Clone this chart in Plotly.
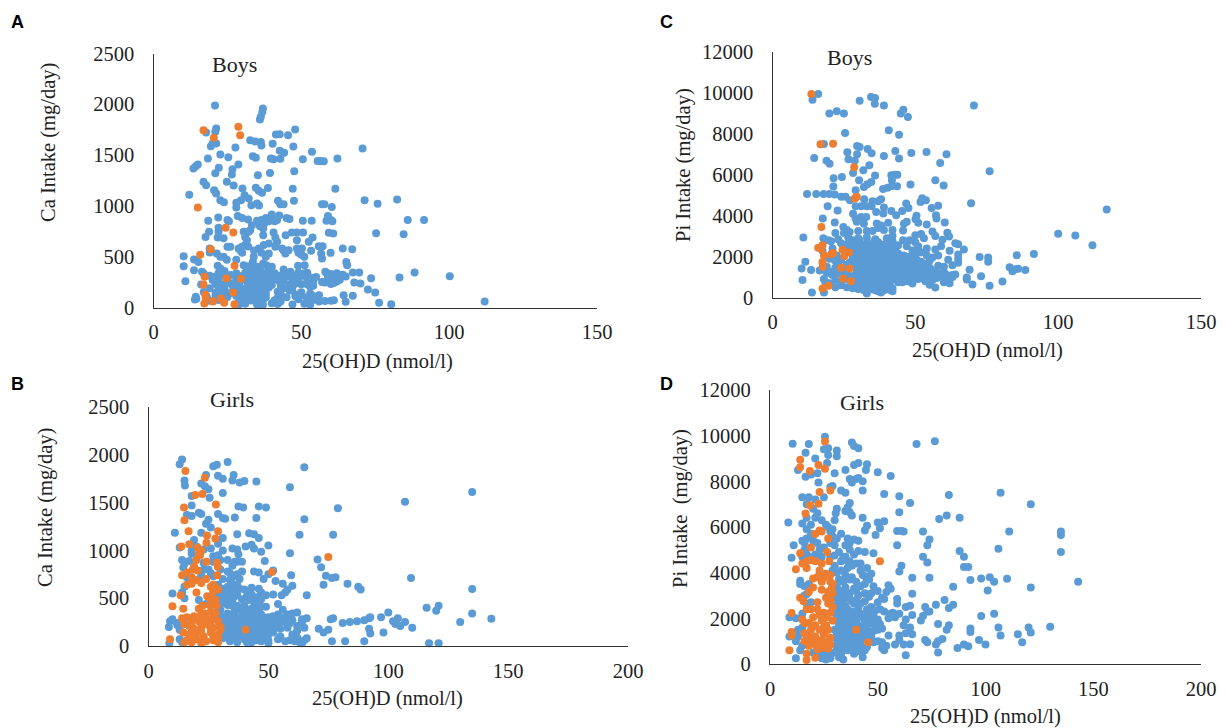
import plotly.graph_objects as go

BLUE = "#5B9BD5"
ORANGE = "#ED7D31"

a_orange = [(16.9,1745),(28.7,1778),(29.3,1696),(20.4,1670),(15,984),(24.4,784),(27,738),(19.4,574),(15.8,518),(27.4,410),(17.3,302),(24.7,289),(29.6,282),(16.9,226),(27,148),(17.5,128),(17.7,95),(17.2,39),(20.1,59),(22.8,89),(23.9,46),(27.4,33)]
a_blue = [(112,60),(20.8,1988),(37,1958),(36.8,1925),(36.3,1877),(36,1850),(21.2,1762),(20.9,1730),(17.8,1722),(41.4,1703),(42.7,1706),(45.5,1696),(47.9,1752),(32.7,1647),(34.4,1634),(36.3,1630),(36.5,1594),(40.3,1611),(47.3,1585),(27.7,1575),(21.2,1614),(19.4,1588),(20,1614),(70.7,1565),(53.6,1532),(42.7,1542),(44.2,1522),(22.6,1506),(25.3,1480),(18.4,1467),(33.6,1489),(34.6,1473),(39.7,1467),(40.6,1460),(42.9,1463),(50.5,1460),(55.5,1443),(57.6,1440),(56.5,1443),(62.2,1467),(15,1407),(13.5,1368),(14.3,1390),(28.7,1407),(22.1,1375),(20.9,1322),(26.7,1361),(26.5,1309),(35.3,1302),(39.4,1325),(47.6,1342),(16.9,1237),(17.8,1204),(24.8,1237),(27.1,1200),(30.1,1171),(34.6,1178),(35.6,1148),(36.7,1129),(38.7,1175),(47.1,1168),(61.5,1168),(12.1,1109),(20.5,1155),(21.2,1122),(30.8,1105),(32.2,1073),(29.6,1056),(22.6,1056),(23.8,1037),(28,1030),(28,985),(33.1,1007),(35,1024),(35.7,1004),(42.1,1050),(42.9,1017),(44,1017),(47.5,1050),(57,1017),(57.8,1017),(60.3,988),(71.4,1056),(75.8,1020),(82.4,1063),
(18.5,855),(21.9,885),(25,860),(25.5,850),(28.5,900),(30,880),(32,865),(35,855),(36.5,860),(38,880),(39,850),(40,915),(41,850),(42.5,905),(41.8,860),(45,880),(46,870),(50.5,855),(53.5,855),(58.5,855),(59,900),(60,860),(60.5,850),(86,860),(91.5,860),(37.5,830),(36,800),
(18.8,745),(17.6,695),(22,784),(22,745),(21.7,690),(23.7,682),(30.5,745),(32.2,745),(33.3,810),(32.7,761),(31,695),(31.6,663),(31,614),(36,810),(37.1,778),(38.4,860),(37.1,712),(40.6,738),(41.2,689),(41.8,646),(44.7,712),(46.8,738),(48.5,738),(50.6,738),(48.5,663),(52.5,646),(53.8,689),(59.3,735),(60.8,728),(75.3,732),(84.6,722),
(25,597),(26,597),(19,580),(19,541),(21.4,531),(22.6,499),(23.7,499),(24.8,470),(28.8,580),(29.3,564),(29.9,597),(33.9,499),(33.6,449),(35.6,580),(37.3,614),(39,630),(39,531),(41.2,597),(43.5,580),(44.6,531),(45.7,564),(48.5,580),(50.2,580),(51,499),(53.3,558),(55.9,604),(57.2,604),(56.7,531),(57,482),(59.9,538),(64,580),(67.2,574),(30,540),(32,600),(34,560),(36.5,540),(38,500),(44,560),(49,540),(50,520),(28,470),
(10.2,505),(10.2,407),(13.7,472),(15.2,449),(13.7,367),(16.4,351),(21.7,410),(22.6,384),(30.5,417),(32.2,407),(37.1,433),(38.2,417),(40,400),(44,374),(46.3,351),(48.9,410),(51.1,417),(65.2,449),(65.5,417),(58.1,351),(33,395),(35,400),(36,380),(39,370),(24,360),
(100.2,308),(83.2,295),(88.3,344),(73.6,289),(67.4,344),(69.6,344),(67.9,246),(70,236),(72.5,177),(75,148),(64.3,121),(67.4,115),(65,56),(76.3,46),(80.4,33),(10.8,259),(16.1,226),(14.3,105),(14.5,85),
(17,335),(22,340),(24,345),(28,338),(31,342),(33,335),(35,345),(37,340),(38,332),(39.5,345),(41,338),(44,340),(46,332),(49,345),(51,336),(52,342),(58.5,342),(60,330),(62,338),(64,322),
(19,312),(21,305),(23,315),(29,310),(30,302),(32,316),(34,308),(36,312),(37,302),(38,316),(39,306),(40,315),(41.5,305),(43,312),(45,302),(48,310),(50,315),(51.5,304),(53,296),(59,310),(61,300),(63,298),(65,304),
(20,270),(22,275),(25,262),(28,278),(31,270),(33,262),(35,276),(36.5,268),(38,260),(39,274),(42,270),(44,262),(47,270),(49,276),(52,262),(54,282),(57,252),(59,270),(62,255),(63,272),
(21,232),(23,226),(26,238),(29,230),(32,224),(34,236),(36,228),(37,240),(40,222),(43,230),(46,225),(48,236),(50,228),(52,230),(54,250),(58,246),(60,232),(61,240),
(19,190),(22,196),(24,186),(27,198),(30,184),(33,192),(35,200),(37,186),(39,196),(44,190),(46,170),(53,205),(54,215),
(17,152),(21,146),(23,158),(26,142),(29,150),(31,160),(33,144),(35,152),(37,160),(38,140),(42,155),(43,130),(47,165),(49,126),(53,138),(56,120),
(18,108),(21,118),(25,104),(28,112),(30,100),(32,118),(34,106),(36,112),(38,100),(42,96),(48,110),(50,118),(52,100),(54,112),
(14,78),(19,66),(22,74),(29,62),(31,78),(33,68),(35,76),(37,66),(41,72),(43,60),(49,80),(52,68),(54,74),(56,60),(58,64),(60,66),(61,72),
(29,32),(31,38),(35,30),(36,40),(37,28),(40,42),(42,34),(47,30),(51,36),(53,28),(33,240),(41,290),(43,180),(45,100),(28,215),(26,320),(24,135),(55,300),(47,205),(50,150)]

c_orange = [(13.6,9950),(16.8,7490),(21.2,7520),(28.6,6370),(28.8,4840),(29.5,4920),(17.1,3450),(16,2430),(17.5,2560),(17,2400),(18,2070),(20.5,2120),(21.2,2180),(24.5,2340),(25.1,2020),(26.8,2200),(17.5,1740),(17.6,1500),(24,1450),(27,1420),(24.7,930),(27.5,800),(17.5,440),(19.6,570)]
c_blue = [(16,9950),(14,9670),(30.5,9620),(34.5,9800),(35.9,9750),(35.8,9475),(39,9380),(70.5,9380),(45.8,9180),(44.9,9000),(47.4,8820),(19.9,9000),(22.5,9100),(25,9000),(40.7,8170),(25.4,8040),(44.3,7960),(18,7500),(29.6,7400),(30.5,7360),(33.3,7260),(34.7,7050),(26.2,7100),(29.6,7000),(39,6920),(43,7160),(44.3,6800),(48.6,7060),(53.9,7110),(60.9,7000),(14.6,6820),(18.9,6690),(20,6540),(26.6,6760),(28.8,6690),(58.7,6580),(33.9,6460),(76,6170),(31.8,6220),(28.2,6090),(21.4,5830),(24.3,5890),(35.9,5960),(30.3,5730),(41.6,5980),(42.9,6000),(43.7,6000),(41.8,5730),(34.6,5650),(33.2,5530),(32,5400),(57,5730),(48.3,5520),(59.9,5470),(21.3,5420),(41.8,5450),(43.6,5440),(40.3,5370),(38.7,5300),(12.1,5060),(15.3,5060),(17.9,5060),(19.9,5060),(21.8,5030),(24.1,4920),(25.5,4920),(29.1,5240),(27.1,4750),(32.1,4800),(35,4700),(38,4800),(37,4700),(52.4,4850),(53.7,4750),(51.8,4670),(46.8,4590),(69.5,4610),(58,4480),(55.7,4380),(47.6,4380),(45.4,4230),(19.3,4460),(22.8,4250),(29.1,4460),(31,4460),(33,4460),(34.7,4460),(39,4400),(36.3,4180),(38.8,4100),(41.6,4230),(43.3,4020),(28.2,4090),(117,4300),(50.4,3990),(50.1,3830),(57.2,4020),(57.4,3860),(60.3,3660),(17.6,3860),(21.8,3660),(29.1,3860),(31,3940),(32.8,3940),(29.5,3700),(32,3600),(46,3600),(47,3700),(36.5,3620),(40.5,3650),(38,3520),(54,3570),(51,3650),
(10.8,2930),(24.8,3450),(26,3300),(22,3150),(25,3150),(27,3200),(30,3250),(33,3250),(35,3250),(37,3400),(39,3300),(42,3300),(45.7,3280),(50,3040),(52,3100),(56,3220),(61.2,3170),(61.8,2980),(57,3000),(100,3110),(106,3030),(112,2550),(17.8,2900),(19.5,2800),(20.5,2750),(23,2850),(26.5,2950),(28,2800),(30,2900),(33,2950),(36,2850),(40,2900),(42,3000),(45.7,2800),(48,2800),(50,2700),(53,2900),(59.5,2820),(64,2650),(65,2600),(67,2350),(17.5,2280),(24,2650),(26,2600),
(31,2500),(33,2650),(35,2550),(37,2700),(39,2450),(41,2600),(43,2400),(47,2500),(49,2300),(51,2500),(54,2400),(57,2350),(59,2500),(62,2280),(65,2100),(65,1900),(72.5,1980),(75.5,1950),(75.5,1750),(85.5,2070),(91.5,2130),
(11.5,1750),(10.2,1420),(13.5,1340),(10.5,860),(13.8,250),(18,250),(16.5,1320),(20,1900),(22,1800),(23,1500),(24,1850),(29,2200),(31,2250),(33,2100),(34,2300),(36,2200),(38,2250),(40,2100),(42,2250),(44,2150),(46,2050),(48,2000),(50,2100),(52,2200),(54,2050),(56,1950),(58,2050),(61.5,1850),(63,1580),(65,1700),
(30,1950),(32,1850),(34,1800),(36,1950),(38,1750),(40,1850),(42,1800),(44,1700),(46,1850),(48,1700),(51,1750),(53,1650),(55,1450),(58,1550),(60,1500),(69,1360),(83,1480),(84,1280),(85,1380),(86,1400),(88.5,1340),
(19,1200),(21,1100),(22,1300),(24,1200),(26,1600),(28,1650),(29,1500),(31,1600),(33,1500),(35,1650),(37,1500),(39,1600),(41,1550),(43,1500),(45,1450),(47,1550),(49,1400),(51,1500),(52,1300),(54,1250),(56,1350),(58,1200),(60,1250),(61,1100),(63,1100),(64,1120),
(30,1300),(32,1200),(34,1350),(36,1250),(38,1150),(40,1350),(42,1200),(44,1250),(46,1150),(48,1250),(50,1050),(52,950),(55,1000),(60,950),(61,800),(62,700),(68,980),(68,880),(73,1040),(70,640),(76,570),(80.5,780),
(18,900),(20,700),(22,850),(24,600),(26,500),(28,600),(30,900),(32,1000),(34,850),(36,950),(38,1050),(40,900),(42,1000),(44,850),(46,950),(48,800),(49,680),(55,620),(57,490),
(28,450),(30,420),(32,350),(33,200),(35,400),(37,300),(38,240),(39,480),(41,380),(42,450),(44,750),(31,700),(33,650),(35,600),(37,720),(39,650),(41,700)]
c_blue_dense = [(27,2550),(29,2650),(30.5,2780),(32,2420),(34,2480),(35.5,2730),(36.5,2350),(38.5,2580),(40,2420),(42,2750),(44,2550),(21,2400),(22.5,2050),(23,1650),(24.5,1100),(26,1300),(27,1700),(28,1900),(29.5,1750),(30.5,1550),(31.5,2050),(32.5,1700),(33,1400),(34,1950),(35,2150),(35.5,1550),(36.5,1850),(37,1650),(37.5,2050),(38.5,1450),(39,1950),(39.5,1250),(40.5,1750),(41,1450),(41.5,2000),(42.5,1550),(43,1950),(43.5,1300),(44.5,1850),(45,1550),(45.5,1150),(46.5,1700),(47.5,1400),(47.5,1100),(48.5,1900),(49,1550),(49.5,1150),(50.5,1850),(50.5,1300),(52,1550),(29,1100),(29.5,1350),(30.5,1100),(31,800),(31.5,1450),(32.5,1100),(33.5,950),(34,1600),(34.5,1150),(35.5,900),(36.5,1100),(37,1350),(37.5,800),(38.5,1050),(39,800),(40.5,1000),(41.5,850),(42.5,1100),(43.5,900),(44.5,1050),(45.5,750),(46.5,1000),(47.5,800),(49,1000),(51,900),(53,1100),(53.5,800),(56,850),(57.5,950),(59,1150),(60,750),(63,1000),(26,900),(24,800),(22,500),(23,1200),(27,1050),(29,600),(30.5,650),(33,550),(34.5,480),(36,350),(37,550),(39,350),(42,300),(22,1450),(20.5,1250),(19,1500),(18.5,750),(26,2250),(28,2450),(29,2000),(30,2350),(33,2050),(35,1750),(37,2200),(41,1850),(47,1900),(52,1750),(54,1500),(55,1800),(57,1250),(51,2350)]

b_orange = [(15.4,1830),(23.5,1760),(19.5,1580),(22.5,1590),(28.1,1480),(14.8,1450),(15,1315),(16.7,1200),(29,1200),(24.4,1155),(27.9,1125),(24.2,1080),(13.7,1040),(17,1065),(20.5,1030),(21.5,950),(20,900),(24.2,880),(28.6,870),(28.9,830),(18.5,800),(16,770),(14,740),(28.7,740),(18,720),(20,690),(22,660),(16,640),(18,650),(27,640),(27,570),(29,590),(20,560),(13.4,530),(24.5,520),(10,415),(14.5,390),(28.4,420),(21,390),(22,330),(26,360),(14,290),(16,300),(18,270),(21,260),(24,290),(27,310),(29,260),(14.5,140),(15,230),(17,210),(19,180),(22,200),(25,220),(27,190),(17,120),(20,130),(23,100),(26,140),(29,120),(16,60),(18,40),(20,70),(24,50),(27,60),(9,70),(75,930),(51.5,775),(40.5,170)]
b_orange_dense = [(21,960),(22,1000),(19,830),(20.5,790),(24,700),(26,620),(28,610),(26,500),(28,480),(22.5,420),(25.5,430),(19,310),(23.5,340),(28,340),(18,230),(23,245),(26,260),(30,200),(18,150),(22,150),(26,180),(30,170),(19,90),(23,60),(27,100),(29,80),(15,40),(22,30),(29,40)]
b_blue = [(14,1950),(13,1900),(33,1925),(28.5,1895),(27,1880),(65,1870),(24,1790),(29,1780),(31,1750),(35.5,1790),(35,1730),(38,1710),(40,1725),(45,1720),(15,1730),(15.2,1680),(22,1700),(23.5,1670),(25,1640),(59,1660),(31,1600),(18,1570),(25.5,1550),(135,1610),(107,1510),(37.5,1460),(39.5,1450),(46,1460),(49,1450),(79,1440),(18,1470),(16,1370),(18,1360),(21,1395),(22,1380),(29,1380),(31,1340),(32,1330),(36,1345),(45,1340),(65,1325),(25,1320),(24,1280),(26,1240),(11,1185),(22,1185),(37,1170),(44,1170),(42,1180),(46,1130),(31,1130),(63,1165),(77,1165),(19,1110),(29,1070),(13,1030),(40.5,1040),(43,1060),(44,1020),(50,1050),(47,985),(59,970),(26,1020),(31,1000),(35,1020),(37,1010),(37.5,960),(18,965),(14,900),(15,860),(33,900),(36,880),(39,880),(23,870),(27,880),(48.5,890),(70.5,905),(72,825),(14.5,820),(19,820),(23,800),(26,760),(30,800),(34,760),(35,720),(37,750),(39,780),(44,780),(46,770),(50,750),(52,790),(48,700),(59.5,740),(74,735),(76.5,710),(78,720),(73,640),(83,650),(87.5,620),(88.5,590),(109.5,710),(135,595),(53,680),(56,650),(60,630),(58,590),(57,560),(66,530),(55.5,530),(52,540),(49,530),(45,510),(42,570),(47,560),(44,470),(46,440),(54,440),(10,550),(15,500),(21,480),(24,440),(27,470),(31,500),(33,540),(35,600),(37,640),(40,590),(43,540),(31,600),(33,620),(37,540),(39,490),(42,480),(35,480),(37,420),(33,430),(30,380),(40,420),(43,390),(46,360),(49,410),(56,380),(58,330),(60,340),(62,350),(66,290),(64,280),(47,410),(44,320),(48,300),(52,270),(54,330),(57,300),(60,270),(64,250),(62,210),(58,190),(54,230),(50,250),(48,230),(46,280),(42,310),(39,360),(36,330),(33,340),(30,320),(32,270),(34,240),(37,280),(39,300),(41,260),(44,250),(46,220),(49,190),(52,170),(55,100),(60,120),(62,160),(65,190),(59,60),(63,40),(66,80),(64,30),(50,60),(48,100),(45,60),(43,40),(40,70),(37,40),(34,50),(31,80),(32,150),(35,130),(37,180),(39,200),(42,160),(45,150),(47,140),(50,120),(53,200),(56,260),(30,220),(32,200),(35,200),(40,130),(8.5,200),(9,260),(8.7,30),(12,240),(10,280),(13,70),(71,180),(73,140),(75,170),(76,280),(77,290),(76.5,50),(82,50),(81,240),(84,250),(87,260),(90,270),(92,290),(92.5,300),(92,180),(92.5,130),(90,50),(98,140),(97,300),(100,350),(102,260),(103,230),(104,290),(105,210),(107,250),(110,190),(116,400),(120,370),(121,420),(117,30),(121,30),(130,250),(135,340),(143,285)]
b_blue_dense = [(33,780),(35,840),(37,880),(34,690),(36,640),(38,700),(34,580),(36,520),(38,600),(41,520),(43,610),(46,600),(47,490),(44,410),(33,480),(31,450),(35,420),(36,370),(38,400),(40,350),(42,360),(45,320),(47,330),(50,300),(52,310),(55,290),(57,250),(33,300),(35,290),(36,250),(38,250),(40,230),(41,210),(43,220),(45,200),(47,250),(49,230),(51,220),(53,250),(55,180),(59,240),(33,210),(34,170),(36,150),(38,130),(40,180),(42,110),(44,130),(46,100),(48,180),(50,170),(52,140),(54,70),(57,50),(31,140),(33,100),(35,80),(37,100),(39,100),(41,40),(44,80),(47,50),(50,30),(62,90),(65,60),(61,50),(18,1000),(17,890),(16,720),(15,620),(14,560),(12,220),(13,170),(14,40),(20,1040),(23,1010),(27,940),(29,950),(30,900),(22,740),(25,800),(27,730),(31,700),(29,640),(31,560),(29,520),(29,360),(31,300),(31,200)]

d_orange = [(25.5,9750),(14,8950),(14,8620),(18.5,8450),(22.5,8720),(25.5,8550),(23,7530),(28,7600),(18.5,6950),(22.5,7020),(16.5,6590),(21,5690),(23,5850),(24,5800),(27,5500),(19,5100),(14,4850),(26.5,4900),(27.5,4500),(15,4400),(17,4500),(19,4550),(21,4500),(12,4150),(17,4200),(24,4400),(23,4100),(26,3950),(28,3900),(22,3800),(20,3750),(28,3600),(20,3350),(18,3150),(24,3250),(28.5,3300),(14,2900),(15.5,2750),(22,2700),(26,2900),(28,2800),(29,2500),(10,2230),(17,2400),(19,2400),(22,2400),(25,2250),(28,2250),(15,1950),(20,2050),(29,1900),(16,1800),(18,1800),(21,1700),(24,1900),(26,1700),(19,1500),(23,1500),(27,1500),(10,1400),(10,1250),(16,1350),(18,1200),(21,1200),(25,1300),(28,1150),(16,1000),(19,1000),(23,1000),(26,950),(18,800),(21,850),(24,700),(27,680),(9,600),(17,450),(21,270),(17,180),(51,4500),(40,1500),(45.5,950)]
d_orange_dense = [(23,3950),(25,3800),(29,3500),(24,3600),(27,3150),(29,3100),(27,2650),(23,2150),(26,2050),(20,1650),(25,1600),(17,1100),(20,1100),(24,1050),(22,650),(25,800),(28,850)]
d_blue = [(25.5,9950),(10.5,9650),(18,9630),(38,9700),(39,9550),(41,9450),(27,9450),(25,9400),(31,9350),(31,9100),(27,9150),(16.5,9250),(21,9000),(68,9630),(76.5,9760),(26.5,8800),(39,8720),(41,8800),(45,8750),(35,8500),(44.5,8500),(50,8400),(56,8230),(13,8500),(16.5,8200),(19,8300),(22,8350),(30,8350),(37,8100),(38,7950),(40,8100),(41,8150),(43,8000),(22.5,7950),(28,7750),(29,7800),(33,7600),(35,7500),(43,7600),(53,7450),(60,7350),(65,7050),(83,7400),(107,7500),(121,7000),(15,7300),(18,7300),(25,7300),(21,7200),(37,7050),(36,6850),(31,6800),(30.5,6600),(35,6700),(37,6650),(38,6500),(60,6650),(17,6400),(15,6150),(8.5,6200),(19,6100),(21,6400),(30,6300),(43,6400),(45,6050),(44,5850),(50,6200),(53,6250),(51,5950),(49,5650),(59,5830),(61,5830),(62,5800),(71,5800),(78.5,6350),(82,6500),(88,6400),(111,5800),(135,5800),(135,5650),(135,4900),(106,5050),(11,5200),(15,5400),(17,5500),(26,6100),(28,5800),(29,5600),(33,5700),(36,5500),(39,5450),(41,5400),(74,5450),(73,5200),(59,5200),(88,4950),(90,4700),(71,4700),(73,4450),(10,4650),(16,5000),(18,4700),(23,5000),(25,5100),(30,5200),(32,4900),(34,4700),(37,5000),(39,4800),(41,4950),(44,4900),(48,4850),(61,4300),(60,4050),(90,4250),(92,4250),(36,4500),(38,4300),(42,4400),(45,4200),(47,3950),(66,3780),(74,3780),(93,3680),(98,3750),(102,3800),(104,3600),(110,3730),(121,3350),(143,3600),(85,3380),(101,3220),(30,4300),(33,4100),(35,3900),(37,3700),(40,3600),(43,3900),(45,3700),(48,3400),(55,3450),(56,3300),(54,3150),(66,3080),(14,3650),(16,3400),(17,3050),(31,3400),(33,3200),(35,3350),(37,3100),(39,3300),(41,3000),(44,3100),(46,2950),(50,2700),(53,2850),(59,2850),(59,2650),(31,2900),(33,2700),(35,2550),(37,2850),(39,2650),(41,2450),(44,2750),(47,2500),(51,2400),(63,2500),(65,2550),(72,2500),(77,2600),(81,2800),(85,2600),(83,2450),(73,2300),(74,2300),(9,2050),(12,2000),(30,2300),(32,2200),(34,2400),(36,2150),(38,2300),(40,2100),(42,2200),(44,1900),(46,2100),(48,2250),(50,1950),(53,2300),(56,2200),(58,2050),(60,2200),(63,1950),(66,2150),(70,1900),(71,2100),(98,2100),(104,2200),(30,1900),(32,1750),(34,1950),(36,1700),(38,1850),(41,1700),(43,1600),(46,1750),(48,1450),(52,1550),(62,1700),(65,1600),(78,1750),(83,1700),(82,1500),(93,1550),(93,1400),(106,1600),(120,1600),(121,1380),(115,1300),(107,1250),(130,1630),(9,1200),(30,1500),(32,1300),(34,1500),(36,1250),(38,1350),(41,1200),(44,1300),(47,1200),(50,1000),(55,1250),(60,1250),(60,1050),(63,1350),(66,1300),(72,1050),(73,950),(78,1000),(80,1100),(97,1050),(100,850),(117,950),(12,1000),(14,600),(31,1100),(33,900),(35,1050),(37,800),(39,950),(42,850),(45,750),(52,700),(54,800),(58,850),(53,600),(62,850),(65,870),(77,850),(78,500),(87,700),(90,850),(92,780),(31,650),(33,450),(36,600),(39,450),(42,550),(43,300),(34,200),(26,200),(24,250),(12,250),(28,400),(63,380)]
d_blue_dense = [(17,7000),(20,6800),(22,6600),(24,6300),(27,6000),(29,5900),(17,5900),(19,5700),(16,5300),(20,5400),(22,5300),(28,5300),(31,5500),(35,5200),(37,5300),(15,4700),(17,4800),(21,4800),(24,4700),(28,4700),(30,4750),(33,4500),(35,4700),(37,4500),(40,4400),(42,4100),(44,3850),(46,3700),(29,4100),(31,4000),(32,3700),(34,3600),(36,4200),(38,3800),(40,3200),(42,3400),(44,3500),(47,3100),(50,3200),(52,2900),(14,3500),(16,3000),(18,3500),(30,3450),(31,3150),(33,2950),(34,2850),(36,3050),(38,2750),(40,2800),(42,2650),(45,2400),(48,2100),(49,2350),(55,2000),(57,2250),(15,2200),(17,2650),(19,2700),(31,2600),(32,2400),(34,2150),(36,2400),(38,2050),(39,2200),(41,2250),(43,2050),(45,2250),(47,1950),(49,1700),(51,1750),(31,2100),(33,1950),(35,1750),(37,1950),(39,1600),(40,1850),(42,1450),(44,1550),(46,1400),(50,1500),(33,1600),(35,1450),(37,1550),(39,1150),(40,1350),(42,1050),(44,1100),(46,1000),(48,950),(52,950),(15,1600),(13,1200),(31,1300),(33,1150),(35,1250),(37,1100),(38,950),(40,750),(42,700),(44,600),(31,850),(33,700),(35,800),(37,600),(39,650),(30,500),(32,300),(28,250),(25,400),(22,450),(20,500),(15,800),(13,1500)]

panels = [
    dict(name="A", blue=a_blue, orange=a_orange, left=153.5, right=597, top=53.5, bottom=307.5, xmax=150, xtick=50, ymax=2500, ytick=500),
    dict(name="C", blue=c_blue + c_blue_dense, orange=c_orange, left=772.5, right=1201, top=52, bottom=297.5, xmax=150, xtick=50, ymax=12000, ytick=2000),
    dict(name="B", blue=b_blue + b_blue_dense, orange=b_orange + b_orange_dense, left=148.5, right=628, top=407, bottom=646, xmax=200, xtick=50, ymax=2500, ytick=500),
    dict(name="D", blue=d_blue + d_blue_dense, orange=d_orange + d_orange_dense, left=770, right=1201, top=390, bottom=664, xmax=200, xtick=50, ymax=12000, ytick=2000),
]

W, H = 1228, 728
PAGE_INSET = 8  # the page body's own margin
SERIF = "Liberation Serif"
TXT = "#222222"


def fx(px):
    return (px - PAGE_INSET) / W


def fy(py):
    return 1 - (py - PAGE_INSET) / H


fig = go.Figure()

for i, p in enumerate(panels, start=1):
    suffix = "" if i == 1 else str(i)
    for pts, col in ((p["blue"], BLUE), (p["orange"], ORANGE)):
        fig.add_trace(go.Scatter(
            x=[q[0] for q in pts], y=[q[1] for q in pts], mode="markers",
            marker=dict(color=col, size=8, line=dict(width=0)),
            xaxis="x" + suffix, yaxis="y" + suffix, showlegend=False, cliponaxis=False,
        ))
    common = dict(showgrid=False, zeroline=False, showline=True, linecolor="#333333", linewidth=1.3,
                  ticks="", automargin=False, tickformat="d",
                  tickfont=dict(family=SERIF, size=20.5, color=TXT))
    fig.update_layout({
        "xaxis" + suffix: dict(domain=[fx(p["left"]), fx(p["right"])], range=[0, p["xmax"]],
                               dtick=p["xtick"], anchor="y" + suffix, ticklabelstandoff=6, **common),
        "yaxis" + suffix: dict(domain=[fy(p["bottom"]), fy(p["top"])], range=[0, p["ymax"]],
                               dtick=p["ytick"], anchor="x" + suffix, ticklabelstandoff=14, **common),
    })

# text: (string, x px, y px, size, rotation, font, bold)
labels = [
    ("A", 17, 22, 18, 0, "Liberation Sans", True), ("C", 666, 22, 18, 0, "Liberation Sans", True),
    ("B", 17, 384, 18, 0, "Liberation Sans", True), ("D", 666, 384, 18, 0, "Liberation Sans", True),
    ("Boys", 234, 65, 22, 0, SERIF, False), ("Boys", 849, 58, 22, 0, SERIF, False),
    ("Girls", 232, 399, 22, 0, SERIF, False), ("Girls", 862, 403, 22, 0, SERIF, False),
    ("Ca Intake (mg/day)", 48, 143, 20.5, -90, SERIF, False),
    ("Pi Intake (mg/day)", 683, 165, 20.5, -90, SERIF, False),
    ("Ca Intake (mg/day)", 45, 508, 20.5, -90, SERIF, False),
    ("Pi Intake  (mg/day)", 680, 509, 20.5, -90, SERIF, False),
    ("25(OH)D (nmol/l)", 377, 361, 20.5, 0, SERIF, False),
    ("25(OH)D (nmol/l)", 987, 350, 20.5, 0, SERIF, False),
    ("25(OH)D (nmol/l)", 387, 698, 20.5, 0, SERIF, False),
    ("25(OH)D (nmol/l)", 985, 716, 20.5, 0, SERIF, False),
]
for text, x, y, size, rot, fam, bold in labels:
    fig.add_annotation(text=f"<b>{text}</b>" if bold else text.replace("  ", "\u00a0 "),
                       xref="paper", yref="paper", x=fx(x), y=fy(y),
                       xanchor="center", yanchor="middle", showarrow=False, textangle=rot,
                       font=dict(family=fam, size=size, color="#000000" if bold else TXT))

fig.update_layout(width=W, height=H, margin=dict(l=0, r=0, t=0, b=0), autosize=False,
                  paper_bgcolor="white", plot_bgcolor="rgba(0,0,0,0)", showlegend=False)
fig.write_html("out.html")
